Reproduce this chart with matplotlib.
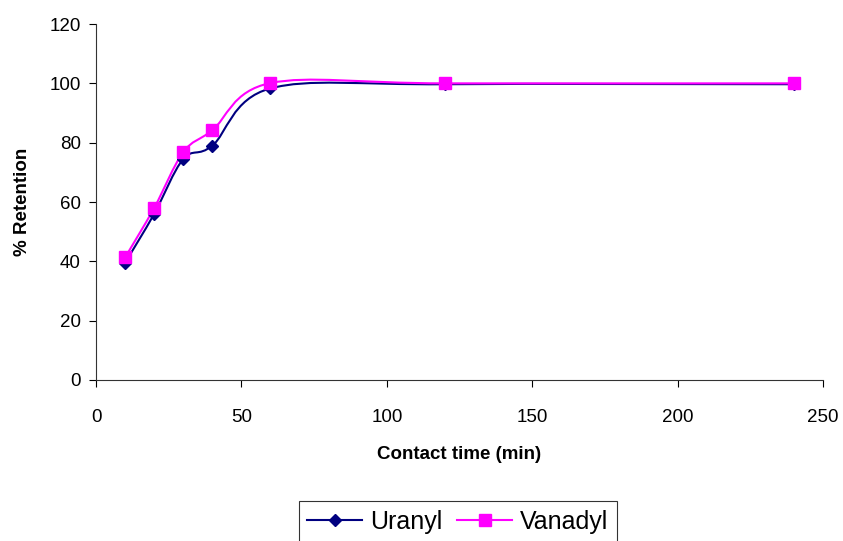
import numpy as np
import matplotlib
matplotlib.use("Agg")
import matplotlib.pyplot as plt
from matplotlib.path import Path
from matplotlib.patches import PathPatch
from matplotlib.lines import Line2D

plt.rcParams['font.family'] = ['Liberation Sans', 'DejaVu Sans']

# data
contact_time = [10, 20, 30, 40, 60, 120, 240]
uranyl = [39.5, 56, 74.5, 79, 98.3, 99.7, 99.7]
vanadyl = [41.3, 58, 76.8, 84.2, 100.1, 100, 100]

x_ticks = [0, 50, 100, 150, 200, 250]
y_ticks = [0, 20, 40, 60, 80, 100, 120]


def smooth_path(xs, ys):
    # Excel-style smoothed line: cubic bezier segments, catmull-rom tangents
    pts = np.column_stack([xs, ys]).astype(float)
    n = len(pts)
    verts = [pts[0]]
    codes = [Path.MOVETO]
    for i in range(n - 1):
        p0 = pts[max(i - 1, 0)]
        p1 = pts[i]
        p2 = pts[i + 1]
        p3 = pts[min(i + 2, n - 1)]
        c1 = p1 + (p2 - p0) / 6.0
        c2 = p2 - (p3 - p1) / 6.0
        verts += [c1, c2, p2]
        codes += [Path.CURVE4] * 3
    return Path(verts, codes)


fig = plt.figure(figsize=(8.43, 5.41), dpi=100)
ax = fig.add_axes([0.1139, 0.2976, 0.8624, 0.658])

series = [
    ("Uranyl", uranyl, "#000080", "D", 6),
    ("Vanadyl", vanadyl, "#FF00FF", "s", 8.5),
]
handles = []
for name, vals, col, mk, ms in series:
    ax.add_patch(PathPatch(smooth_path(contact_time, vals), facecolor='none',
                           edgecolor=col, lw=1.5, zorder=2))
    ax.plot(contact_time, vals, linestyle='none', marker=mk, ms=ms,
            color=col, mec=col, zorder=3)
    handles.append(Line2D([], [], color=col, lw=1.5, marker=mk, ms=ms))

ax.set_xlim(0, 250)
ax.set_ylim(0, 120)
ax.set_xticks(x_ticks)
ax.set_yticks(y_ticks)
ax.tick_params(labelsize=13.5, direction='out', length=5, width=0.8,
               colors='black')
ax.tick_params(axis='x', pad=16)
ax.tick_params(axis='y', pad=6)
for s in ['top', 'right']:
    ax.spines[s].set_visible(False)
for s in ['left', 'bottom']:
    ax.spines[s].set_color('#333333')
    ax.spines[s].set_linewidth(0.8)

ax.set_xlabel("Contact time (min)", fontsize=13.5, fontweight='bold', labelpad=14)
ax.set_ylabel("% Retention", fontsize=13.5, fontweight='bold', labelpad=13)

leg = fig.legend(handles, ["Uranyl", "Vanadyl"], loc='upper center',
                 bbox_to_anchor=(0.543, 0.074), ncol=2, fontsize=18,
                 frameon=True, fancybox=False, edgecolor='black',
                 handlelength=2.2, handletextpad=0.3, columnspacing=0.6,
                 borderpad=0.35, borderaxespad=0)
leg.get_frame().set_linewidth(0.8)

fig.savefig("out.png", dpi=100)
